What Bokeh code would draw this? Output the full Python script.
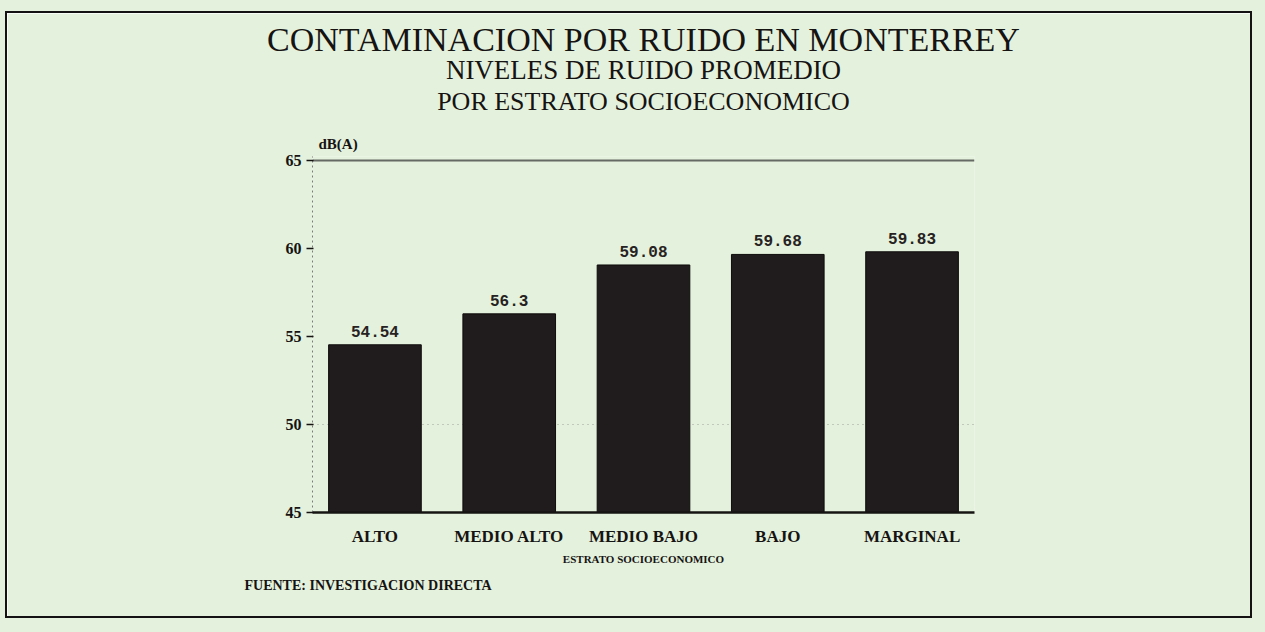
from bokeh.plotting import figure
from bokeh.models import Range1d, FixedTicker, Grid, ColumnDataSource, Title
from bokeh.core.properties import value
from bokeh.embed import file_html
from bokeh.resources import INLINE

# ---- data ----
categories = ["ALTO", "MEDIO ALTO", "MEDIO BAJO", "BAJO", "MARGINAL"]
levels_db = [54.54, 56.3, 59.08, 59.68, 59.83]
y_ticks = [45, 50, 55, 60, 65]

title_text = "CONTAMINACION POR RUIDO EN MONTERREY"
subtitle_1 = "NIVELES DE RUIDO PROMEDIO"
subtitle_2 = "POR ESTRATO SOCIOECONOMICO"
y_unit = "dB(A)"
x_title = "ESTRATO SOCIOECONOMICO"
source_note = "FUENTE: INVESTIGACION DIRECTA"

BG = "#e4f1dc"
INK = "#161313"
SERIF = "Liberation Serif"

xs = list(range(1, len(categories) + 1))
src = ColumnDataSource(dict(
    x=xs,
    top=levels_db,
    label=[str(v) for v in levels_db],
))

p = figure(
    width=1247, height=607,
    x_range=Range1d(0.535, 5.465), y_range=Range1d(45, 65.25),
    output_backend="svg", toolbar_location=None,
    min_border_left=305, min_border_right=280,
    min_border_top=143, min_border_bottom=108,
    background_fill_color=BG, border_fill_color=BG,
    outline_line_color=None,
)
p.styles = {
    "border": "2px solid #141212",
    "margin-left": "5px",
    "margin-top": "11px",
    "box-shadow": "0 0 0 60px " + BG,
}

# bars
p.vbar(x="x", top="top", bottom=45, width=0.69, source=src,
       fill_color="#201b1c", line_color="#0f0c0c", line_width=1)

# value labels
p.text(x="x", y="top", text="label", source=src,
       text_align="center", text_baseline="bottom", y_offset=-8,
       text_font=value("Liberation Mono"), text_font_style="bold",
       text_font_size="16px", text_color="#262222")

# grids
p.xgrid.visible = False
p.ygrid.visible = False
g50 = Grid(dimension=1, ticker=FixedTicker(ticks=[50]),
           grid_line_color="#6a6a6a", grid_line_alpha=0.6,
           grid_line_dash="1 4", grid_line_width=1)
g65 = Grid(dimension=1, ticker=FixedTicker(ticks=[65]),
           grid_line_color="#3c3c3c", grid_line_alpha=0.75,
           grid_line_width=2)
p.add_layout(g50)
p.add_layout(g65)

# x axis
xa = p.xaxis[0]
xa.ticker = FixedTicker(ticks=xs)
xa.major_label_overrides = {i: c for i, c in zip(xs, categories)}
xa.axis_line_color = INK
xa.axis_line_width = 2.5
xa.major_tick_line_color = None
xa.minor_tick_line_color = None
xa.major_label_standoff = 8
xa.major_label_text_font = SERIF
xa.major_label_text_font_style = "bold"
xa.major_label_text_font_size = "17px"
xa.major_label_text_color = INK
xa.axis_label = x_title
xa.axis_label_text_font = SERIF
xa.axis_label_text_font_style = "bold"
xa.axis_label_text_font_size = "11px"
xa.axis_label_text_color = INK
xa.axis_label_standoff = 4

# y axis
ya = p.yaxis[0]
ya.ticker = FixedTicker(ticks=y_ticks)
ya.axis_line_color = "#7a7a7a"
ya.axis_line_dash = "2 3"
ya.axis_line_width = 1
ya.major_tick_out = 6
ya.major_tick_in = 1
ya.major_tick_line_color = INK
ya.major_tick_line_width = 1.5
ya.minor_tick_line_color = None
ya.major_label_standoff = 5
ya.major_label_text_font = SERIF
ya.major_label_text_font_style = "bold"
ya.major_label_text_font_size = "16px"
ya.major_label_text_color = INK

# titles stacked above the frame (first added = closest to the frame)
def add_title(text, size, style="normal", align="center", offset=0,
              standoff=0, place="above", valign="bottom"):
    p.add_layout(Title(text=text, text_font=SERIF, text_font_style=style,
                       text_font_size=size, text_color=INK, align=align,
                       offset=offset, standoff=standoff,
                       vertical_align=valign), place)

add_title(y_unit, "15px", style="bold", align="left", offset=6, standoff=10)
add_title(" ", "1px", standoff=10)
add_title(subtitle_2, "26px")
add_title(subtitle_1, "27px")
add_title(title_text, "34px", standoff=-10)
add_title(source_note, "14px", style="bold", align="left", offset=-68,
          standoff=20, place="below", valign="top")

open("out.html", "w").write(file_html(p, INLINE))
